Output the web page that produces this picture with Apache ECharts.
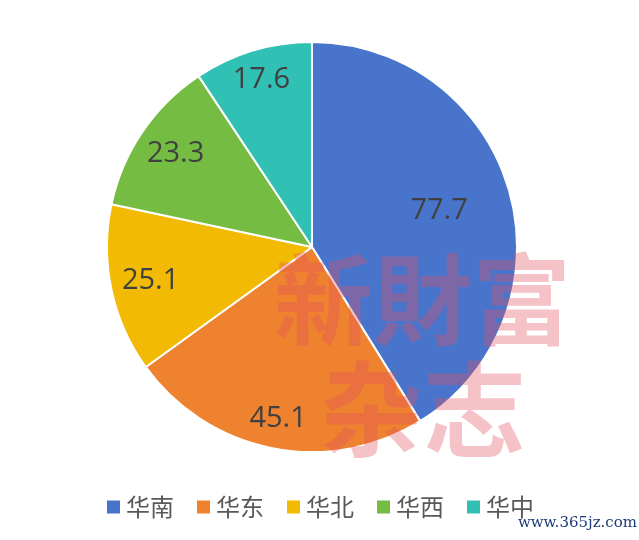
<!DOCTYPE html>
<html><head><meta charset="utf-8">
<script src="https://cdn.jsdelivr.net/npm/echarts@6/dist/echarts.min.js"></script>
<style>html,body{margin:0;padding:0;background:#fff}#c{width:639px;height:540px}</style>
</head><body><div id="c"></div>
<script>
const categories = ['华南', '华东', '华北', '华西', '华中'];
const values = [77.7, 45.1, 25.1, 23.3, 17.6];
const colors = ['#4874CB', '#EE822F', '#F2BA02', '#75BD42', '#30C0B4'];
// inner radius fraction of the label ring for each slice (label sits mid-ring)
const labelRings = [0.26, 0.68, 0.58, 0.58, 0.68];

const chart = echarts.init(document.getElementById('c'), null, {renderer: 'canvas'});
const R = 205;
const center = [312, 247];
const data = categories.map((c, i) => ({name: c, value: values[i], itemStyle: {color: colors[i]}}));
const labelFont = {fontSize: 29, color: '#404040', fontFamily: 'Open Sans, Noto Sans, sans-serif'};
const ringSet = [...new Set(labelRings)];
const labelSeries = ringSet.map((r0, k) => ({
  type: 'pie', center: center, radius: [r0 * R, R], startAngle: 90, clockwise: true,
  silent: true, legendHoverLink: false,
  itemStyle: {color: 'transparent'},
  label: Object.assign({show: true, position: 'inside', formatter: '{c}'}, labelFont),
  labelLine: {show: false},
  data: categories.map((c, i) => ({
    name: c + ' '.repeat(k + 1), value: values[i],
    itemStyle: {color: 'transparent'},
    label: {show: labelRings[i] === r0}
  }))
}));
chart.setOption({
  animation: false,
  legend: {
    bottom: 16, left: 'center', itemWidth: 15, itemHeight: 15, itemGap: 21,
    icon: 'rect',
    textStyle: {fontSize: 24, color: '#595959', fontFamily: 'Noto Sans CJK SC'},
    data: categories
  },
  series: [
    {
      type: 'pie', center: center, radius: [0, R], startAngle: 90, clockwise: true,
      itemStyle: {borderColor: '#fff', borderWidth: 2},
      label: {show: false}, labelLine: {show: false}, silent: true,
      data: data
    }
  ].concat(labelSeries),
  graphic: [
    {type: 'text', left: 274, top: 250, silent: true, z: 100,
     style: {text: '新財富', fontSize: 99, fontWeight: 'bold', fontFamily: 'Noto Sans CJK TC', fill: 'rgba(226,80,96,0.35)'}},
    {type: 'text', left: 320, top: 358, silent: true, z: 100,
     style: {text: '杂志', fontSize: 103, fontWeight: 'bold', fontFamily: 'Noto Sans CJK SC', fill: 'rgba(226,80,96,0.35)'}},
    {type: 'text', right: 2, top: 516, silent: true, z: 100,
     style: {text: 'www.365jz.com', fontSize: 15, fontFamily: 'DejaVu Serif, serif', fill: '#1d3a78'}}
  ]
});
</script></body></html>
